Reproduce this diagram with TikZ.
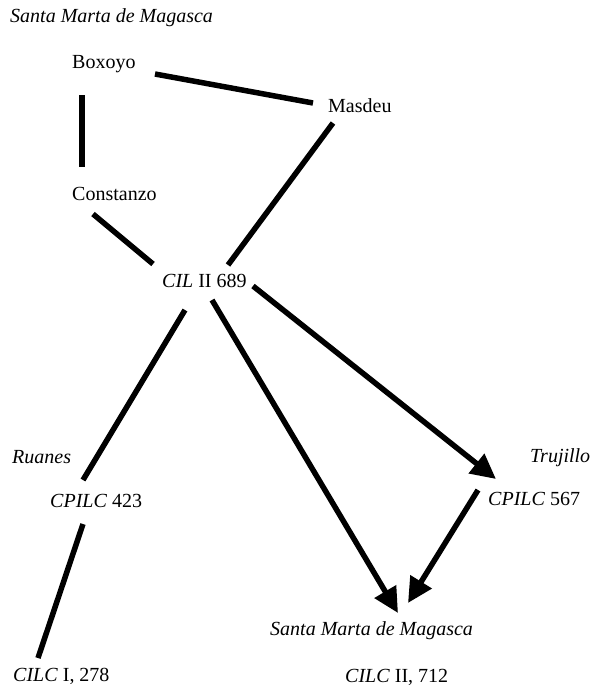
\documentclass[tikz,border=0pt]{standalone}
\usepackage{fontspec}
\setmainfont{Liberation Serif}
\usetikzlibrary{arrows.meta}
\begin{document}
\begin{tikzpicture}[x=1pt,y=1pt,
  lbl/.style={anchor=base west,inner sep=0pt,font=\fontsize{20}{24}\selectfont},
  link/.style={line width=5.5pt},
  arr/.style={line width=5.5pt,-{Triangle[length=25pt,width=24pt]}}]
\useasboundingbox (0,0) rectangle (592,-691);
\node[lbl] (sm1) at (10,-22) {\textit{Santa Marta de Magasca}};
\node[lbl] (boxoyo) at (72,-68) {Boxoyo};
\node[lbl] (masdeu) at (328,-112) {Masdeu};
\node[lbl] (constanzo) at (72,-200) {Constanzo};
\node[lbl] (cil) at (162,-287) {\textit{CIL} II 689};
\node[lbl] (ruanes) at (12,-463) {\textit{Ruanes}};
\node[lbl] (cp423) at (50,-507) {\textit{CPILC} 423};
\node[lbl] (cilc1) at (13,-681) {\textit{CILC} I, 278};
\node[lbl] (trujillo) at (530,-462) {\textit{Trujillo}};
\node[lbl] (cp567) at (488,-505) {\textit{CPILC} 567};
\node[lbl] (sm2) at (270,-635) {\textit{Santa Marta de Magasca}};
\node[lbl] (cilc2) at (345,-682) {\textit{CILC} II, 712};
\draw[link] ([shift={(83,-6)}]boxoyo.base west) -- ([shift={(-15,9)}]masdeu.base west);
\draw[link] ([shift={(10,-27)}]boxoyo.base west) -- ([shift={(10,33)}]constanzo.base west);
\draw[link] ([shift={(5,-11)}]masdeu.base west) -- ([shift={(66,22)}]cil.base west);
\draw[link] ([shift={(21,-14)}]constanzo.base west) -- ([shift={(-9,23)}]cil.base west);
\draw[link] ([shift={(23,-23)}]cil.base west) -- ([shift={(33,27)}]cp423.base west);
\draw[arr] ([shift={(50,-13)}]cil.base west) -- ([shift={(128,22)}]sm2.base west);
\draw[arr] ([shift={(91,1)}]cil.base west) -- ([shift={(8,26)}]cp567.base west);
\draw[arr] ([shift={(-10,15)}]cp567.base west) -- ([shift={(138,32)}]sm2.base west);
\draw[link] ([shift={(33,-17)}]cp423.base west) -- ([shift={(25,23)}]cilc1.base west);
\end{tikzpicture}
\end{document}
